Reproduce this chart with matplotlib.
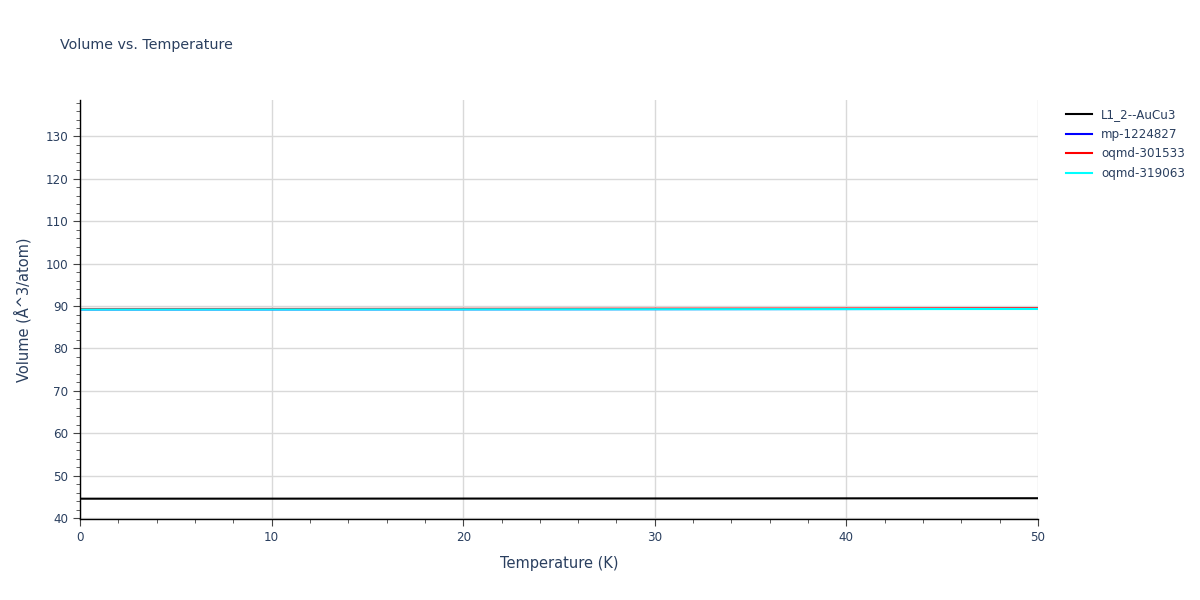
import matplotlib
matplotlib.use("Agg")
import matplotlib.pyplot as plt
from matplotlib.ticker import MultipleLocator

temperature = [0, 10, 20, 30, 40, 50]
vol_l12_aucu3 = [44.55, 44.56, 44.58, 44.60, 44.63, 44.66]
vol_mp_1224827 = [89.20, 89.21, 89.23, 89.26, 89.29, 89.33]
vol_oqmd_301533 = [89.30, 89.31, 89.34, 89.38, 89.42, 89.47]
vol_oqmd_319063 = [89.18, 89.19, 89.21, 89.24, 89.27, 89.30]

series = [
    ("L1_2--AuCu3", vol_l12_aucu3, "#000000"),
    ("mp-1224827", vol_mp_1224827, "#0000ff"),
    ("oqmd-301533", vol_oqmd_301533, "#ff0000"),
    ("oqmd-319063", vol_oqmd_319063, "#00ffff"),
]

txt = "#2a3f5f"
fig = plt.figure(figsize=(12, 6), dpi=100)
ax = fig.add_axes([80/1200, 81/600, 958/1200, 419/600])
for name, vals, c in series:
    ax.plot(temperature, vals, color=c, lw=1.5, label=name)

ax.set_xlim(0, 50)
ax.set_ylim(39.76, 138.6)
ax.xaxis.set_major_locator(MultipleLocator(10))
ax.xaxis.set_minor_locator(MultipleLocator(2))
ax.yaxis.set_major_locator(MultipleLocator(10))
ax.yaxis.set_minor_locator(MultipleLocator(2))
ax.grid(True, which="major", color="#d9d9d9", lw=1)
ax.set_axisbelow(True)
for s in ["top", "right"]:
    ax.spines[s].set_visible(False)
for s in ["left", "bottom"]:
    ax.spines[s].set_color("#000000")
    ax.spines[s].set_linewidth(1)
ax.tick_params(which="major", length=5, color="#444444", labelsize=8.6, labelcolor=txt, direction="out")
ax.tick_params(which="minor", length=3, color="#444444", direction="out")
ax.set_xlabel("Temperature (K)", fontsize=10.5, color=txt, labelpad=9)
ax.set_ylabel("Volume (Å^3/atom)", fontsize=10.5, color=txt, labelpad=10)

fig.text(60/1200, 1 - 45/600, "Volume vs. Temperature", fontsize=10.3, color=txt, va="center", ha="left")
leg = ax.legend(loc="upper left", bbox_to_anchor=(1.02, 1.0), frameon=False, fontsize=8.6,
                handlelength=2.2, labelspacing=0.55, borderaxespad=0.3)
for t in leg.get_texts():
    t.set_color(txt)

fig.savefig("out.png", dpi=100)
